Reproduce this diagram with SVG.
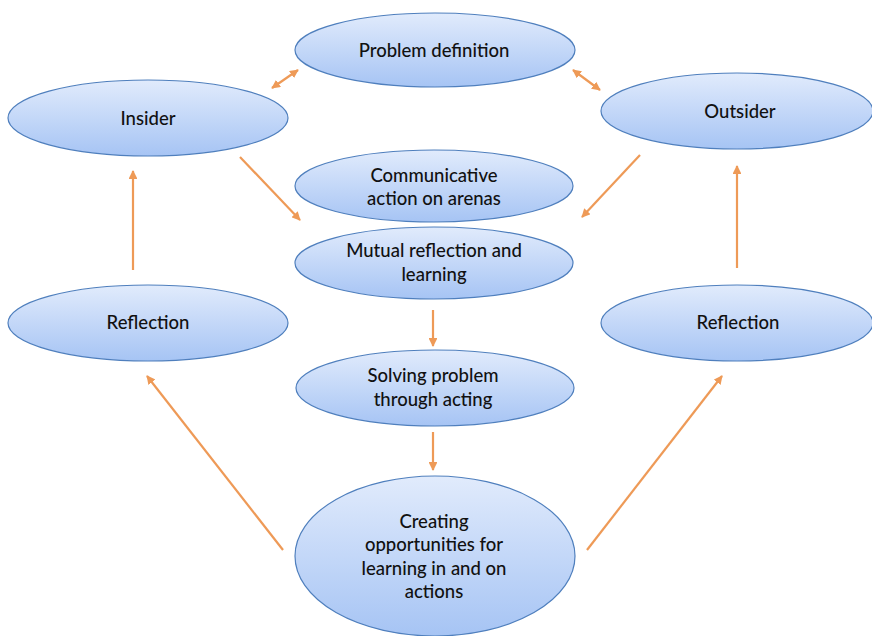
<svg xmlns="http://www.w3.org/2000/svg" width="872" height="636" viewBox="0 0 872 636">
<defs>
<linearGradient id="g" x1="0" y1="0" x2="0" y2="1">
<stop offset="0" stop-color="#e1ebfc"/>
<stop offset="1" stop-color="#a6c4f4"/>
</linearGradient>
<marker id="ah" viewBox="0 0 10 10" refX="9" refY="5" markerWidth="4" markerHeight="4" orient="auto-start-reverse">
<path d="M0,0 L10,5 L0,10 z" fill="#ee9a57"/>
</marker>
</defs>
<style>
.n ellipse{fill:url(#g);stroke:#4f7fbd;stroke-width:1.2}
.n text{font-family:Lato,"Open Sans","Liberation Sans",sans-serif;font-size:18.5px;font-weight:500;fill:#111;text-anchor:middle}
.c line{stroke:#ee9a57;stroke-width:2.2;marker-end:url(#ah)}
.c line.d{marker-start:url(#ah)}
</style>
<rect width="872" height="636" fill="#fff"/>
<g id="connectors" class="c">
<line class="d" x1="272" y1="88" x2="298" y2="70"/>
<line class="d" x1="573" y1="70" x2="600" y2="90"/>
<line x1="240" y1="157" x2="300" y2="220"/>
<line x1="640" y1="155" x2="582" y2="217"/>
<line x1="133" y1="270" x2="133" y2="171"/>
<line x1="737" y1="268" x2="737" y2="166"/>
<line x1="433" y1="310" x2="433" y2="346"/>
<line x1="433" y1="432" x2="433" y2="470"/>
<line x1="283" y1="550" x2="147" y2="376"/>
<line x1="587" y1="550" x2="722" y2="376"/>
</g>
<g id="problem" class="n"><ellipse cx="435" cy="50" rx="140" ry="37"/><text x="434" y="57">Problem definition</text></g>
<g id="insider" class="n"><ellipse cx="148" cy="118" rx="140" ry="38"/><text x="148" y="125">Insider</text></g>
<g id="outsider" class="n"><ellipse cx="737" cy="111" rx="136" ry="38"/><text x="740" y="118">Outsider</text></g>
<g id="communicative" class="n"><ellipse cx="434" cy="186" rx="139" ry="36"/><text x="434" y="182">Communicative</text><text x="434" y="205">action on arenas</text></g>
<g id="mutual" class="n"><ellipse cx="434" cy="263" rx="139" ry="36"/><text x="434" y="257">Mutual reflection and</text><text x="434" y="281">learning</text></g>
<g id="reflectionL" class="n"><ellipse cx="148" cy="323" rx="140" ry="38"/><text x="148" y="329">Reflection</text></g>
<g id="reflectionR" class="n"><ellipse cx="737" cy="323" rx="136" ry="38"/><text x="738" y="329">Reflection</text></g>
<g id="solving" class="n"><ellipse cx="435" cy="388" rx="139" ry="38"/><text x="433" y="382">Solving problem</text><text x="433" y="406">through acting</text></g>
<g id="creating" class="n"><ellipse cx="435" cy="556" rx="140" ry="80"/><text x="434" y="528">Creating</text><text x="434" y="551">opportunities for</text><text x="434" y="575">learning in and on</text><text x="434" y="598">actions</text></g>
</svg>
